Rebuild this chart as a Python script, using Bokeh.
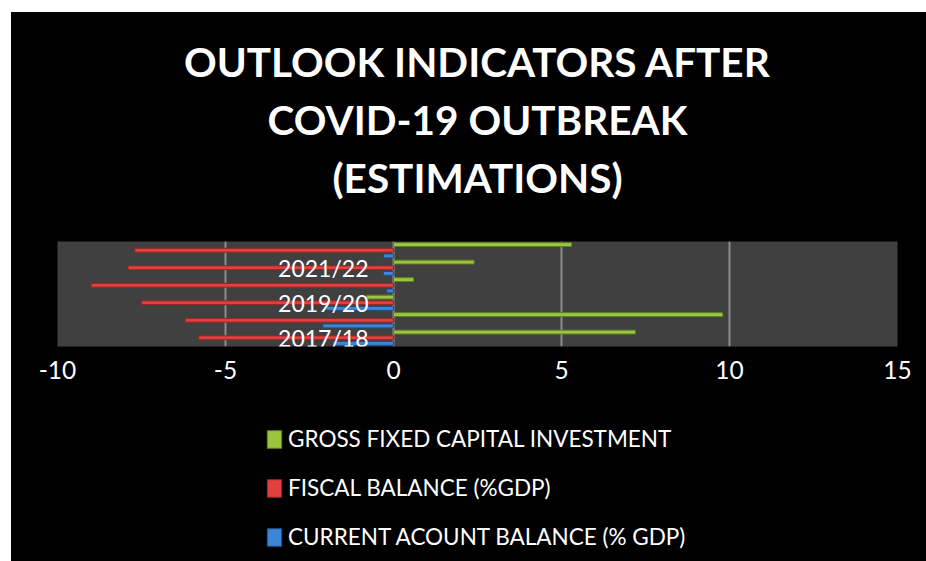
from bokeh.plotting import figure
from bokeh.layouts import column
from bokeh.models import Range1d, FactorRange, FixedTicker, Legend, LegendItem, ColumnDataSource, Title
from bokeh.transform import dodge
from bokeh.core.properties import value
from bokeh.embed import file_html
from bokeh.resources import INLINE

# ---- data ----
years = ["2017/18", "2018/19", "2019/20", "2020/21", "2021/22", "2022/23"]
shown_labels = ["2017/18", "2019/20", "2021/22"]
gfci = [7.2, 9.8, -0.8, 0.6, 2.4, 5.3]
fiscal = [-5.8, -6.2, -7.5, -9.0, -7.9, -7.7]
current = [-1.8, -2.1, -2.0, -0.2, -0.3, -0.3]
x_ticks = [-10, -5, 0, 5, 10, 15]
x_tick_labels = ["-10", "-5", "0", "5", "10", "15"]
series_names = ["GROSS FIXED CAPITAL INVESTMENT", "FISCAL BALANCE (%GDP)",
                "CURRENT ACOUNT BALANCE (% GDP)"]
title_lines = ["OUTLOOK INDICATORS AFTER", "COVID-19 OUTBREAK", "(ESTIMATIONS)"]

src = ColumnDataSource(dict(year=years, gfci=gfci, fiscal=fiscal, current=current,
                            zero=[0] * len(years)))
lab_src = ColumnDataSource(dict(year=shown_labels, zero=[0] * len(shown_labels)))

FONT = "Lato"
colors = ["#9BC53D", "#E0403F", "#3D85D8"]
edges = ["#5E7F22", "#8E2524", "#224E86"]
offsets = [0.324, 0.0, -0.324]
cols = ["gfci", "fiscal", "current"]

# ---- main chart ----
p = figure(frame_width=840, frame_height=105, output_backend="svg", toolbar_location=None,
           y_range=FactorRange(*years, range_padding=0), x_range=Range1d(-10, 15),
           min_border_left=46, min_border_right=29, min_border_top=229, min_border_bottom=50,
           background_fill_color="#404040", border_fill_color="black", outline_line_color=None)
p.styles = {"background-color": "black"}

for c, col, ed, off in zip(cols, colors, edges, offsets):
    p.hbar(y=dodge("year", off, range=p.y_range), left="zero", right=c, height=0.22,
           source=src, fill_color=col, line_color=ed, line_width=1)

p.text(x="zero", y="year", text="year", source=lab_src, x_offset=-25,
       text_align="right", text_baseline="middle", text_color="white",
       text_font=value(FONT), text_font_size="23px")

p.xaxis.ticker = FixedTicker(ticks=x_ticks)
p.xaxis.major_label_overrides = {t: s for t, s in zip(x_ticks, x_tick_labels)}
p.xaxis.axis_line_color = None
p.xaxis.major_tick_line_color = None
p.xaxis.minor_tick_line_color = None
p.xaxis.major_label_text_color = "white"
p.xaxis.major_label_text_font = FONT
p.xaxis.major_label_text_font_size = "24.5px"
p.xaxis.major_label_standoff = 8
p.yaxis.visible = False

p.xgrid.grid_line_color = "#8C8C8C"
p.xgrid.grid_line_width = 2
p.ygrid.grid_line_color = None


def mk_title(t, standoff, size="40.5px"):
    return Title(text=t, align="center", text_color="white", text_font=FONT,
                 text_font_style="bold", text_font_size=size, standoff=standoff)


# above: first added is closest to the frame
p.add_layout(mk_title(" ", 33, "1px"), "above")   # gap between title and plot
p.add_layout(mk_title(title_lines[2], 7), "above")
p.add_layout(mk_title(title_lines[1], 7), "above")
p.title = mk_title(title_lines[0], 7)

# ---- legend strip (black panel below the chart) ----
p2 = figure(width=915, height=165, output_backend="svg", toolbar_location=None,
            x_range=Range1d(0, 1), y_range=Range1d(0, 1),
            x_axis_location=None, y_axis_location=None, min_border=0,
            background_fill_color="black", border_fill_color="black", outline_line_color=None)
p2.styles = {"background-color": "black"}
p2.xgrid.grid_line_color = None
p2.ygrid.grid_line_color = None
p2.center = []          # no grids in the legend strip
proxies = []
for c, col, ed, off in zip(cols, colors, edges, offsets):
    r = p2.hbar(y=dodge("year", off, range=p.y_range), left="zero", right=c, height=0.22,
                source=src, fill_color=col, line_color=ed, line_width=1, visible=False)
    proxies.append(r)

legend = Legend(items=[LegendItem(label=n, renderers=[r]) for n, r in zip(series_names, proxies)],
                location=(208, 11), orientation="vertical",
                background_fill_alpha=0, border_line_color=None, inactive_fill_alpha=0,
                label_text_color="white", label_text_font=FONT, label_text_font_size="22.5px",
                glyph_width=18, glyph_height=22, label_standoff=5, spacing=22,
                padding=0, margin=0)
p2.add_layout(legend, "center")

layout = column(p, p2, spacing=0)
layout.margin = (12, 0, 0, 11)
layout.styles = {"background-color": "black"}

open("out.html", "w").write(file_html(layout, INLINE))
